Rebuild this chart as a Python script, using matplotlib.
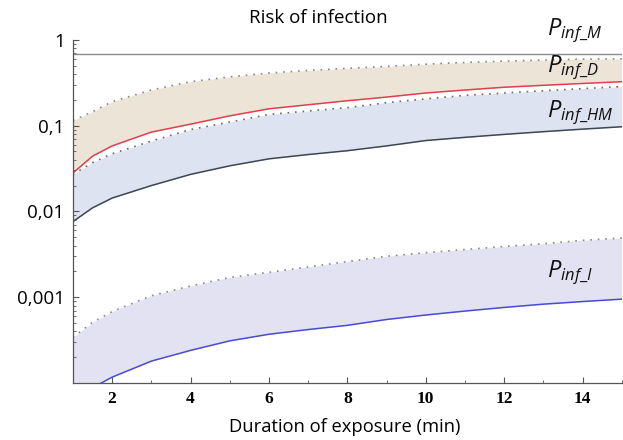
import matplotlib
matplotlib.use('Agg')
import matplotlib.pyplot as plt
from matplotlib.ticker import FixedLocator, NullFormatter

plt.rcParams['mathtext.fontset'] = 'custom'
plt.rcParams['mathtext.it'] = 'Open Sans:italic'
plt.rcParams['mathtext.rm'] = 'Open Sans'

# exposure duration (min)
t = [1, 1.5, 2, 3, 4, 5, 6, 7, 8, 9, 10, 11, 12, 13, 14, 15]

# (log scale)
p_m = 0.69
p_d_upper = [0.115, 0.145, 0.19, 0.26, 0.325, 0.37, 0.41, 0.44, 0.465, 0.49, 0.52, 0.545, 0.565, 0.58, 0.595, 0.60]
p_d_lower = [0.028, 0.044, 0.058, 0.084, 0.104, 0.13, 0.157, 0.175, 0.195, 0.215, 0.24, 0.26, 0.28, 0.295, 0.31, 0.325]
p_hm_upper = [0.027, 0.037, 0.047, 0.066, 0.09, 0.11, 0.135, 0.148, 0.162, 0.185, 0.205, 0.225, 0.24, 0.255, 0.27, 0.285]
p_hm_lower = [0.0076, 0.011, 0.0143, 0.020, 0.027, 0.034, 0.041, 0.046, 0.051, 0.058, 0.067, 0.073, 0.079, 0.085, 0.091, 0.097]
p_i_upper = [3.4e-4, 5.1e-4, 6.8e-4, 1.04e-3, 1.35e-3, 1.7e-3, 1.95e-3, 2.25e-3, 2.6e-3, 3.0e-3, 3.3e-3, 3.6e-3, 3.9e-3, 4.2e-3, 4.6e-3, 4.9e-3]
p_i_lower = [6e-5, 8.8e-5, 1.17e-4, 1.8e-4, 2.4e-4, 3.1e-4, 3.7e-4, 4.2e-4, 4.7e-4, 5.5e-4, 6.2e-4, 6.9e-4, 7.6e-4, 8.3e-4, 8.9e-4, 9.5e-4]

y_ticks = [1, 0.1, 0.01, 0.001]
y_labels = ['1', '0,1', '0,01', '0,001']
x_ticks = [2, 4, 6, 8, 10, 12, 14]
x_minor = [1, 3, 5, 7, 9, 11, 13, 15]

fig = plt.figure(figsize=(6.23, 4.4), dpi=100)
ax = fig.add_axes([0.117, 0.1295, 0.881, 0.78])

# bands
ax.fill_between(t, p_d_lower, p_d_upper, color='#ede4d8', lw=0)
ax.fill_between(t, p_hm_lower, p_hm_upper, color='#dde3f1', lw=0)
ax.fill_between(t, p_i_lower, p_i_upper, color='#e2e2f2', lw=0)

# lines
dots = (0, (1, 3.5))
ax.axhline(p_m, color='#8a8a8a', lw=1)
ax.plot(t, p_d_upper, linestyle=dots, color='#888888', lw=1.2)
ax.plot(t, p_d_lower, color='#e0404c', lw=1.1)
ax.plot(t, p_hm_upper, linestyle=dots, color='#6a6a6a', lw=1.2)
ax.plot(t, p_hm_lower, color='#3e4650', lw=1.1)
ax.plot(t, p_i_upper, linestyle=dots, color='#888888', lw=1.2)
ax.plot(t, p_i_lower, color='#4a4ad6', lw=1.1)

ax.set_yscale('log')
ax.set_xlim(1, 15)
ax.set_ylim(1e-4, 1.0)

ax.yaxis.set_major_locator(FixedLocator(y_ticks))
ax.set_yticklabels(y_labels, fontfamily='Open Sans', fontsize=13.5)
ax.yaxis.set_minor_formatter(NullFormatter())
ax.set_xticks(x_ticks)
ax.set_xticklabels([str(v) for v in x_ticks], fontfamily='Liberation Serif',
                   fontweight='bold', fontsize=12.5)
ax.xaxis.set_minor_locator(FixedLocator(x_minor))
ax.tick_params(which='both', direction='in', color='#555555')
ax.tick_params(which='major', length=4, pad=6)
ax.tick_params(which='minor', length=2)

for s in ['top', 'right']:
    ax.spines[s].set_visible(False)
for s in ['left', 'bottom']:
    ax.spines[s].set_color('#555555')
    ax.spines[s].set_linewidth(0.9)

# curve labels
lab_kw = dict(fontsize=17, va='baseline', ha='left', color='#111111', clip_on=False)
ax.text(13.1, 1.14, r'$P_{inf\_M}$', **lab_kw)
ax.text(13.1, 0.42, r'$P_{inf\_D}$', **lab_kw)
ax.text(13.1, 0.127, r'$P_{inf\_HM}$', **lab_kw)
ax.text(13.1, 1.73e-3, r'$P_{inf\_I}$', **lab_kw)

fig.text(318 / 623, 1 - 18 / 440, 'Risk of infection', fontfamily='Open Sans',
         fontsize=13.5, ha='center', va='center')
fig.text(345 / 623, 1 - 427 / 440, 'Duration of exposure (min)', fontfamily='Open Sans',
         fontsize=13.2, ha='center', va='center')

fig.savefig('out.png', dpi=100)
